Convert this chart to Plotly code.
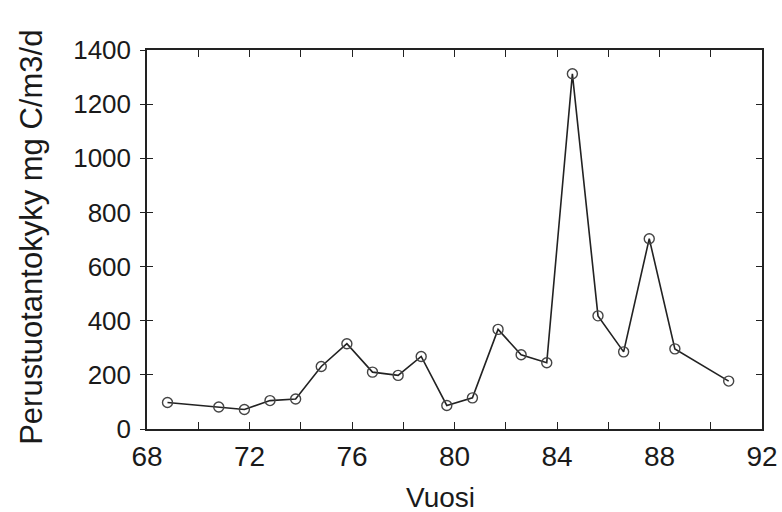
import plotly.graph_objects as go

years = [68.8, 70.8, 71.8, 72.8, 73.8, 74.8, 75.8, 76.8, 77.8, 78.7, 79.7,
         80.7, 81.7, 82.6, 83.6, 84.6, 85.6, 86.6, 87.6, 88.6, 90.7]
values = [98, 81, 72, 105, 111, 231, 315, 210, 198, 268, 87,
          115, 368, 274, 245, 1312, 418, 285, 703, 296, 177]

x_tickvals = list(range(68, 93, 2))
x_ticktext = [str(v) if v % 4 == 0 else "" for v in x_tickvals]
y_tickvals = list(range(0, 1401, 200))

x_title = "Vuosi"
y_title = "Perustuotantokyky mg C/m3/d"

font_family = "Liberation Sans, Arial, sans-serif"

fig = go.Figure()
fig.add_trace(go.Scatter(
    x=years, y=values, mode="lines+markers",
    line=dict(color="#222222", width=1.6),
    marker=dict(symbol="circle-open", size=10, color="#444444", line=dict(width=1.4)),
    showlegend=False,
))
# invisible trace to carry the outside-tick overlay axis
fig.add_trace(go.Scatter(x=[years[0]], y=[values[0]], yaxis="y2", mode="markers",
                         marker=dict(opacity=0), showlegend=False, hoverinfo="skip"))

fig.update_layout(
    width=782, height=512,
    margin=dict(l=147, r=20, t=50, b=83, autoexpand=False),
    paper_bgcolor="white", plot_bgcolor="white",
    font=dict(family=font_family, color="#1a1a1a"),
    xaxis=dict(
        range=[68, 92], tickvals=x_tickvals, ticktext=x_ticktext,
        ticks="inside", ticklen=7, tickwidth=1.3, tickcolor="#222",
        showline=True, linecolor="#222", linewidth=1.5, mirror="ticks",
        showgrid=False, zeroline=False, automargin=False,
        tickfont=dict(size=28), ticklabelstandoff=2,
    ),
    yaxis=dict(
        range=[0, 1400], tickvals=y_tickvals,
        ticks="inside", ticklen=6, tickwidth=1.3, tickcolor="#222",
        showline=True, linecolor="#222", linewidth=1.5, mirror="ticks",
        showgrid=False, zeroline=False, automargin=False,
        tickfont=dict(size=26), ticklabelstandoff=9,
    ),
    yaxis2=dict(
        range=[0, 1400], tickvals=y_tickvals, overlaying="y", side="left",
        ticks="outside", ticklen=6, tickwidth=1.3, tickcolor="#222",
        showticklabels=False, showline=False, showgrid=False, zeroline=False,
        automargin=False,
    ),
    annotations=[
        dict(text=x_title, xref="paper", yref="paper", x=0.478, y=-0.18,
             xanchor="center", yanchor="middle", showarrow=False,
             font=dict(size=28)),
        dict(text=y_title, xref="paper", yref="paper", x=-0.187, y=0.507,
             xanchor="center", yanchor="middle", textangle=-90, showarrow=False,
             font=dict(size=31)),
    ],
)

fig.write_html("out.html")
